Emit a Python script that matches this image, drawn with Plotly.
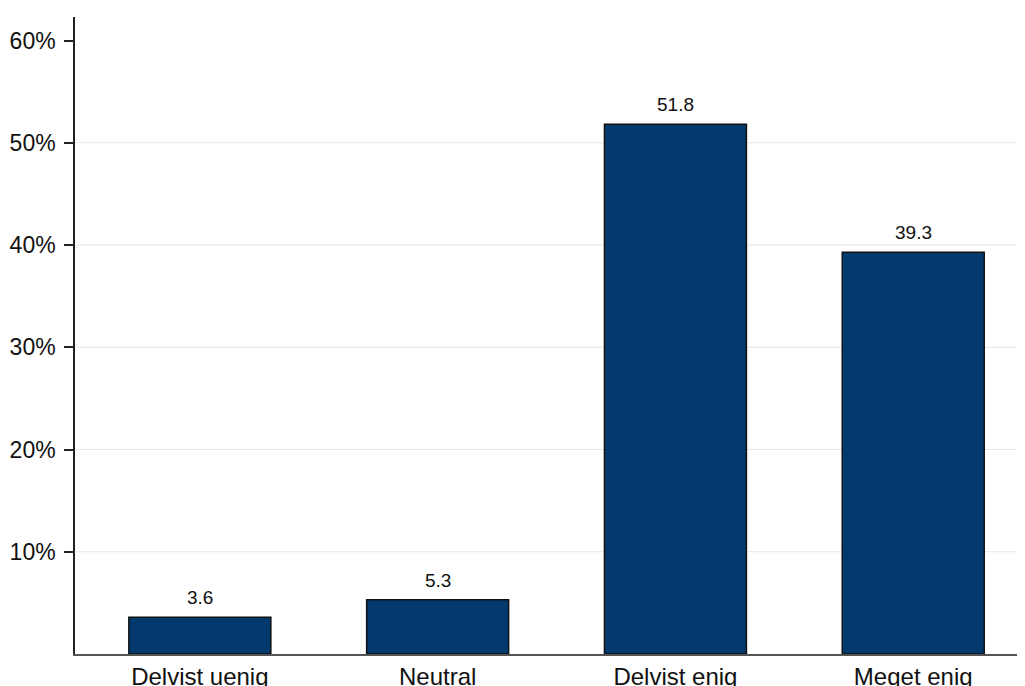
import plotly.graph_objects as go

categories = ["Delvist uenig", "Neutral", "Delvist enig", "Meget enig"]
values = [3.6, 5.3, 51.8, 39.3]
tick_vals = [10, 20, 30, 40, 50, 60]
tick_text = ["10%", "20%", "30%", "40%", "50%", "60%"]
grid_vals = [10, 20, 30, 40, 50]

BAR = "#023a6e"
FONT = "Liberation Sans, Arial, Helvetica, sans-serif"

fig = go.Figure()
fig.add_trace(go.Bar(
    x=list(range(len(categories))), y=values, width=0.597,
    marker=dict(color=BAR, line=dict(color="#111111", width=1.5)),
    hoverinfo="skip",
))

for i, v in enumerate(values):
    fig.add_annotation(x=i, y=v, text=f"{v:.1f}", showarrow=False,
                       yanchor="bottom", yshift=7,
                       font=dict(family=FONT, size=19, color="#111111"))

for g in grid_vals:
    fig.add_shape(type="line", xref="paper", x0=0, x1=1, yref="y", y0=g, y1=g,
                  line=dict(color="#e6e6e6", width=1), layer="below")

fig.update_layout(
    width=1017, height=678,
    margin=dict(l=67, r=0, t=9, b=32, autoexpand=False),
    paper_bgcolor="white", plot_bgcolor="white",
    showlegend=False,
    font=dict(family=FONT, color="#111111"),
    xaxis=dict(
        range=[-0.525, 3.47], automargin=False,
        tickmode="array", tickvals=list(range(len(categories))), ticktext=categories,
        showgrid=False, zeroline=False, showline=True, linecolor="#555555", linewidth=1.5,
        ticks="", tickfont=dict(size=24, family=FONT, color="#111111"),
    ),
    yaxis=dict(
        range=[0, 62.3], automargin=False,
        tickmode="array", tickvals=tick_vals, ticktext=tick_text,
        showgrid=False, zeroline=False, showline=True, linecolor="#222222", linewidth=1.5,
        ticks="outside", ticklen=9, tickwidth=1.5, tickcolor="#222222",
        ticklabelstandoff=4,
        tickfont=dict(size=23, family=FONT, color="#111111"),
    ),
)

fig.write_html("out.html")
